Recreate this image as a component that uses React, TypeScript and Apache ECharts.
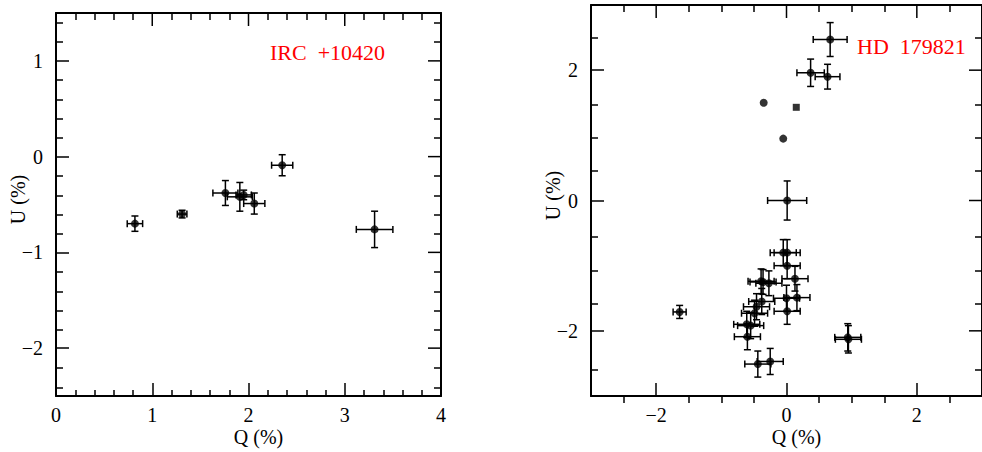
import React, { useEffect, useRef } from "react";
import * as echarts from "echarts";

// ---------- Left panel: IRC +10420 ----------
const leftQ = [0.82, 1.31, 1.76, 1.91, 1.95, 2.06, 2.35, 3.31];
const leftU = [-0.7, -0.6, -0.38, -0.42, -0.4, -0.49, -0.09, -0.76];
const leftQErr = [0.08, 0.05, 0.13, 0.13, 0.08, 0.11, 0.11, 0.19];
const leftUErr = [0.08, 0.04, 0.13, 0.15, 0.05, 0.11, 0.11, 0.19];

const leftXMajor = [0, 1, 2, 3, 4];
const leftXMinor = [0.2, 0.4, 0.6, 0.8, 1.2, 1.4, 1.6, 1.8, 2.2, 2.4, 2.6, 2.8, 3.2, 3.4, 3.6, 3.8];
const leftYMajor = [-2, -1, 0, 1];
const leftYMinor = [-2.4, -2.2, -1.8, -1.6, -1.4, -1.2, -0.8, -0.6, -0.4, -0.2, 0.2, 0.4, 0.6, 0.8, 1.2, 1.4];

// ---------- Right panel: HD 179821 ----------
const rightQ = [0.67, 0.37, 0.63, -0.35, -0.05, 0.01, -0.05, 0.01, 0.01, 0.13, -0.39, -0.36, -0.27, 0.0, 0.16, -0.38, -0.46, -0.49, 0.01, -1.64, -0.61, -0.55, -0.6, 0.94, 0.95, -0.44, -0.25];
const rightU = [2.47, 1.96, 1.9, 1.5, 0.95, 0.0, -0.8, -0.8, -1.0, -1.2, -1.24, -1.25, -1.27, -1.5, -1.49, -1.55, -1.63, -1.73, -1.7, -1.71, -1.9, -1.92, -2.09, -2.1, -2.13, -2.51, -2.47];
const rightQErr = [0.26, 0.21, 0.19, 0, 0, 0.3, 0.2, 0.2, 0.2, 0.2, 0.2, 0.2, 0.2, 0.2, 0.2, 0.2, 0.2, 0.2, 0.2, 0.1, 0.2, 0.2, 0.2, 0.2, 0.2, 0.2, 0.2];
const rightUErr = [0.26, 0.21, 0.19, 0, 0, 0.3, 0.2, 0.2, 0.2, 0.19, 0.19, 0.19, 0.19, 0.2, 0.2, 0.2, 0.2, 0.2, 0.2, 0.1, 0.2, 0.2, 0.2, 0.21, 0.21, 0.2, 0.2];
const rightSquareQ = [0.15];
const rightSquareU = [1.43];

const rightXMajor = [-2, 0, 2];
const rightXMinor = [-2.5, -1.5, -1, -0.5, 0.5, 1, 1.5, 2.5];
const rightYMajor = [-2, 0, 2];
const rightYMinor = [-2.5, -1.5, -1, -0.5, 0.5, 1, 1.5, 2.5];

const FONT = "Liberation Serif";
const fmt = (v: number) => (v < 0 ? "\u2212" + Math.abs(v) : String(v));
const tickStyle = () => ({ color: "#000", width: 1.5 });

type Rect = { left: number; top: number; width: number; height: number };
type AxisSpec = { min: number; max: number; major: number[]; minor: number[]; name: string };

function baseAxis(gridIndex: number, position: string, min: number, max: number) {
  return {
    type: "value",
    gridIndex,
    position,
    min,
    max,
    splitLine: { show: false },
    axisLine: { show: false, onZero: false, lineStyle: { color: "#000", width: 2 } },
    axisTick: { show: false },
    axisLabel: { show: false },
  };
}

function mainAxis(dim: "x" | "y", gridIndex: number, s: AxisSpec) {
  const isX = dim === "x";
  const a: any = baseAxis(gridIndex, isX ? "bottom" : "left", s.min, s.max);
  a.axisLine.show = true;
  a.axisTick = { show: true, inside: true, length: 13, customValues: s.major.slice(), lineStyle: tickStyle() };
  a.axisLabel = {
    show: true,
    customValues: s.major.slice(),
    formatter: fmt,
    margin: isX ? 11 : 13,
    color: "#000",
    fontFamily: FONT,
    fontSize: 20,
    lineHeight: 16,
  };
  a.name = s.name;
  a.nameLocation = "middle";
  a.nameGap = isX ? 33 : 30;
  a.nameMoveOverlap = false;
  a.nameTextStyle = {
    fontFamily: FONT,
    fontSize: 20,
    lineHeight: 16,
    color: "#000",
    padding: isX ? [0, 0, 0, 20] : [0, 0, 0, 10],
  };
  return a;
}

function minorAxis(gridIndex: number, position: string, s: AxisSpec) {
  const a: any = baseAxis(gridIndex, position, s.min, s.max);
  a.axisTick = { show: true, inside: true, length: 7, customValues: s.minor.slice(), lineStyle: tickStyle() };
  return a;
}

function panel(rect: Rect, xs: AxisSpec, ys: AxisSpec, g0: number) {
  const grids = [{ ...rect }, { ...rect }];
  const xTopLine: any = baseAxis(g0, "top", xs.min, xs.max);
  xTopLine.axisLine.show = true;
  const yRightLine: any = baseAxis(g0, "right", ys.min, ys.max);
  yRightLine.axisLine.show = true;
  const xAxes = [mainAxis("x", g0, xs), xTopLine, minorAxis(g0 + 1, "bottom", xs), minorAxis(g0 + 1, "top", xs)];
  const yAxes = [mainAxis("y", g0, ys), yRightLine, minorAxis(g0 + 1, "left", ys), minorAxis(g0 + 1, "right", ys)];
  return { grids, xAxes, yAxes };
}

// mirrored major ticks on the top and right frame edges, placed through the axes' scales
function oppositeTicks(xs: AxisSpec, ys: AxisSpec, axisIndex: number) {
  const len = 13;
  const style = { stroke: "#000", lineWidth: 1.5 };
  const top = {
    type: "custom",
    xAxisIndex: axisIndex,
    yAxisIndex: axisIndex,
    silent: true,
    z: 3,
    encode: { x: 0, y: 1 },
    data: xs.major.map((v) => [v, ys.max]),
    renderItem: (params: any, api: any) => {
      const p = api.coord([api.value(0), api.value(1)]);
      return { type: "line", shape: { x1: p[0], y1: p[1], x2: p[0], y2: p[1] + len }, style };
    },
  };
  const right = {
    type: "custom",
    xAxisIndex: axisIndex,
    yAxisIndex: axisIndex,
    silent: true,
    z: 3,
    encode: { x: 0, y: 1 },
    data: ys.major.map((v) => [xs.max, v]),
    renderItem: (params: any, api: any) => {
      const p = api.coord([api.value(0), api.value(1)]);
      return { type: "line", shape: { x1: p[0], y1: p[1], x2: p[0] - len, y2: p[1] }, style };
    },
  };
  return [top, right];
}

function errorSeries(q: number[], u: number[], qe: number[], ue: number[], axisIndex: number) {
  const data = q.map((v, i) => [v, u[i], qe[i], ue[i]]);
  return {
    type: "custom",
    xAxisIndex: axisIndex,
    yAxisIndex: axisIndex,
    data,
    encode: { x: 0, y: 1 },
    z: 1,
    renderItem: (params: any, api: any) => {
      const x = api.value(0);
      const y = api.value(1);
      const xe = api.value(2);
      const ye = api.value(3);
      const style = { stroke: "#000", lineWidth: 1.5 };
      const cap = 3.5;
      const children: any[] = [];
      if (xe > 0) {
        const l = api.coord([x - xe, y]);
        const r = api.coord([x + xe, y]);
        children.push({ type: "line", shape: { x1: l[0], y1: l[1], x2: r[0], y2: r[1] }, style });
        children.push({ type: "line", shape: { x1: l[0], y1: l[1] - cap, x2: l[0], y2: l[1] + cap }, style });
        children.push({ type: "line", shape: { x1: r[0], y1: r[1] - cap, x2: r[0], y2: r[1] + cap }, style });
      }
      if (ye > 0) {
        const b = api.coord([x, y - ye]);
        const t = api.coord([x, y + ye]);
        children.push({ type: "line", shape: { x1: b[0], y1: b[1], x2: t[0], y2: t[1] }, style });
        children.push({ type: "line", shape: { x1: b[0] - cap, y1: b[1], x2: b[0] + cap, y2: b[1] }, style });
        children.push({ type: "line", shape: { x1: t[0] - cap, y1: t[1], x2: t[0] + cap, y2: t[1] }, style });
      }
      return { type: "group", children };
    },
  };
}

function dots(q: number[], u: number[], axisIndex: number, symbol: string, size: number) {
  return {
    type: "scatter",
    xAxisIndex: axisIndex,
    yAxisIndex: axisIndex,
    symbol,
    symbolSize: size,
    itemStyle: { color: "#000" },
    z: 2,
    data: q.map((v, i) => [v, u[i]]),
  };
}

export default function App() {
  const ref = useRef<HTMLDivElement>(null);
  useEffect(() => {
    if (!ref.current) return;
    const chart = echarts.init(ref.current, null, { renderer: "svg" });
    const lx: AxisSpec = { min: 0, max: 4, major: leftXMajor, minor: leftXMinor, name: "Q (%)" };
    const ly: AxisSpec = { min: -2.5, max: 1.5, major: leftYMajor, minor: leftYMinor, name: "U (%)" };
    const rx: AxisSpec = { min: -3, max: 3, major: rightXMajor, minor: rightXMinor, name: "Q (%)" };
    const ry: AxisSpec = { min: -3, max: 3, major: rightYMajor, minor: rightYMinor, name: "U (%)" };
    const L = panel({ left: 56, top: 13, width: 385, height: 384 }, lx, ly, 0);
    const R = panel({ left: 591, top: 5, width: 398, height: 398 }, rx, ry, 2);
    const rIdx = L.xAxes.length;
    const option: any = {
      animation: false,
      backgroundColor: "#fff",
      grid: [...L.grids, ...R.grids],
      xAxis: [...L.xAxes, ...R.xAxes],
      yAxis: [...L.yAxes, ...R.yAxes],
      series: [
        ...oppositeTicks(lx, ly, 0),
        errorSeries(leftQ, leftU, leftQErr, leftUErr, 0),
        dots(leftQ, leftU, 0, "circle", 8),
        ...oppositeTicks(rx, ry, rIdx),
        errorSeries(rightQ, rightU, rightQErr, rightUErr, rIdx),
        dots(rightQ, rightU, rIdx, "circle", 8),
        dots(rightSquareQ, rightSquareU, rIdx, "rect", 7),
      ],
      graphic: [
        {
          type: "text",
          x: 270,
          y: 52,
          style: { text: "IRC  +10420", fill: "#ff0000", fontFamily: FONT, fontSize: 22, verticalAlign: "middle" },
        },
        {
          type: "text",
          x: 857,
          y: 46,
          style: { text: "HD  179821", fill: "#ff0000", fontFamily: FONT, fontSize: 22, verticalAlign: "middle" },
        },
      ],
    };
    chart.setOption(option);
    return () => chart.dispose();
  }, []);
  return (
    <div
      ref={ref}
      style={{ position: "absolute", left: 0, top: 0, width: 982, height: 452, background: "#fff" }}
    />
  );
}
